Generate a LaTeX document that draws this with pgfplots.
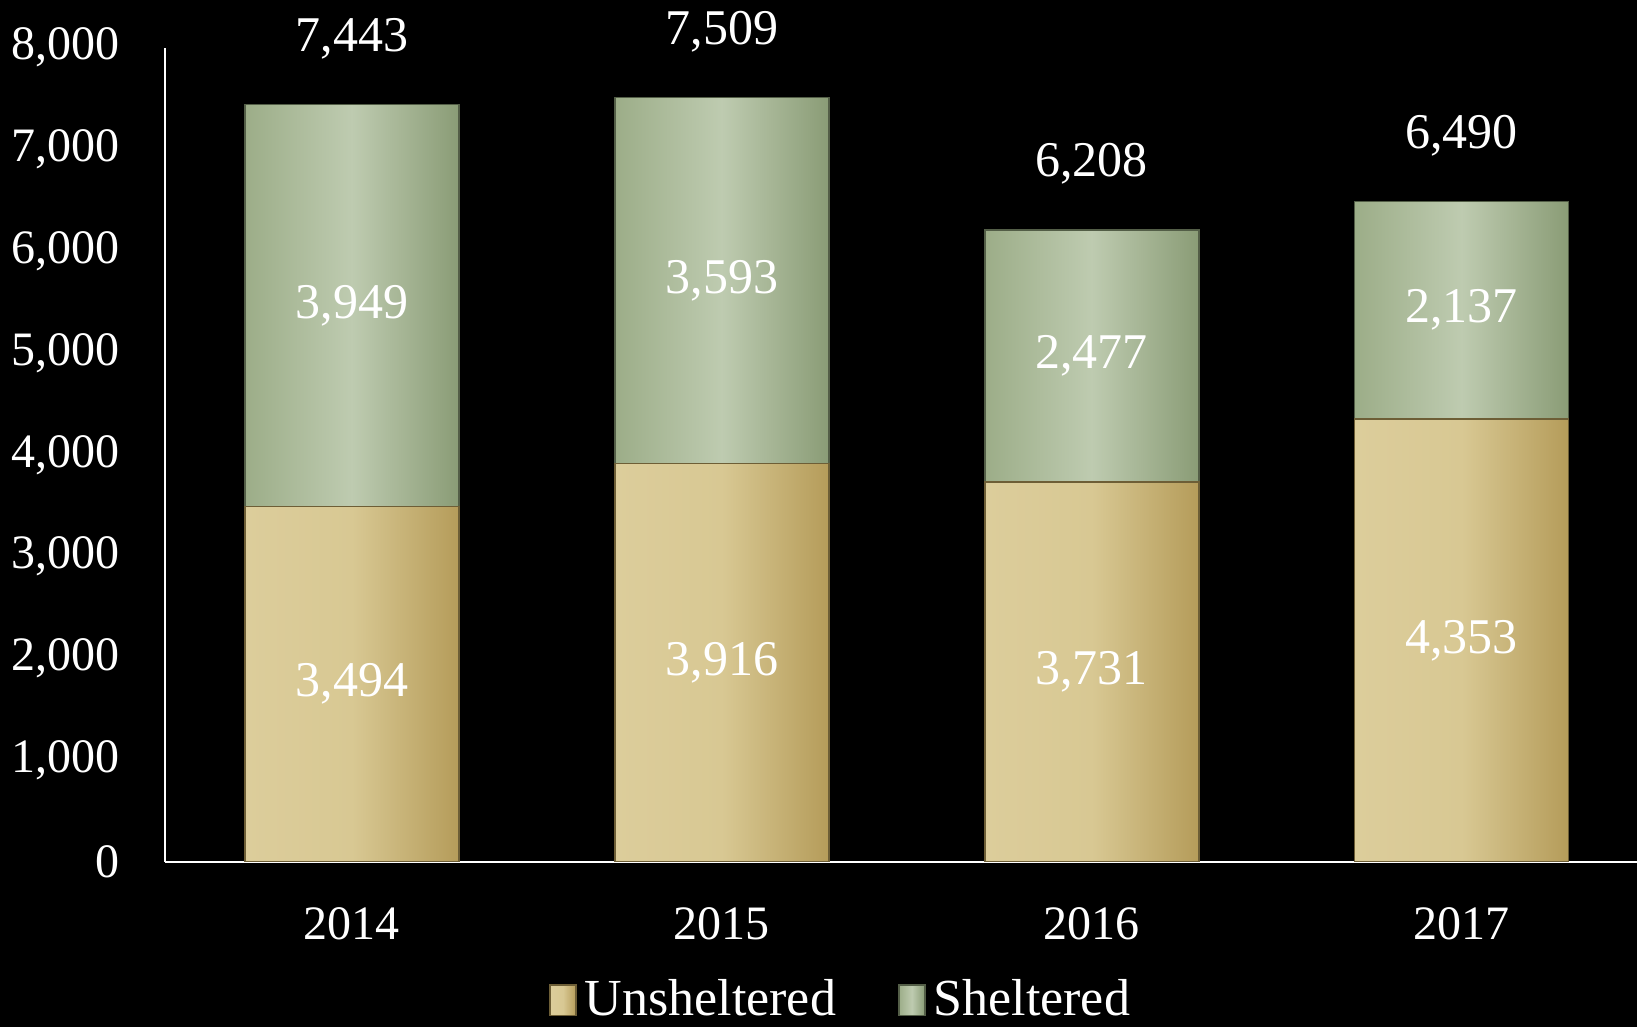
\documentclass[border=0pt]{standalone}
\usepackage{fontspec}
\setmainfont{Liberation Serif}
\usepackage{xcolor}
\usepackage{pgfplots}
\pgfplotsset{compat=1.18}
\definecolor{gL}{HTML}{9CAD88}
\definecolor{gM}{HTML}{BECBB0}
\definecolor{gR}{HTML}{8A9C76}
\definecolor{tL}{HTML}{DCCD9B}
\definecolor{tM}{HTML}{D8C893}
\definecolor{tR}{HTML}{B59C5A}
\newcommand{\fs}[1]{\fontsize{#1}{#1}\selectfont}
\pgfplotsset{
  unsh/.style={left color=tL, right color=tR, middle color=tM, draw=tR!60!black, line width=0.4pt},
  shel/.style={left color=gL, right color=gR, middle color=gM, draw=gR!60!black, line width=0.4pt},
}

\begin{document}
\begin{tikzpicture}
\fill[black] (0,0) rectangle (409.25pt,256.75pt);
\begin{axis}[
  name=a, at={(41.25pt,41.25pt)}, anchor=south west,
  scale only axis, width=368pt, height=203.6pt,
  ybar, bar width=53.5pt, bar shift=0pt,
  xmin=-0.505, xmax=3.474, ymin=0, ymax=8000,
  xtick={0,1,2,3}, xticklabels={2014,2015,2016,2017},
  ytick={0,1000,...,8000}, scaled y ticks=false,
  /pgf/number format/1000 sep={,}, /pgf/number format/assume math mode=true,
  axis x line*=bottom, axis y line*=left,
  axis line style={white, line width=0.6pt},
  major tick length=0pt,
  xticklabel style={anchor=center, yshift=-15.5pt, text=white, font=\fs{12}},
  yticklabel style={anchor=east, inner sep=0pt, xshift=-11.25pt, text=white, font=\fs{12}},
  legend style={draw=none, fill=none, text=white, font=\fs{13},
    at={(0.461,-0.17)}, anchor=center, legend columns=2,
    /tikz/every even column/.append style={column sep=13.5pt}},
  legend image code/.code={\path[#1] (0pt,-3.8pt) rectangle (6.5pt,3.8pt);},
]
% sheltered segment drawn from 0 to the total, unsheltered drawn over its lower part
\addplot[shel, forget plot] coordinates {(0,7443)};
\addplot[shel, forget plot] coordinates {(1,7509)};
\addplot[shel, forget plot] coordinates {(2,6208)};
\addplot[shel, forget plot] coordinates {(3,6490)};
\addplot[unsh, forget plot] coordinates {(0,3494)};
\addplot[unsh, forget plot] coordinates {(1,3916)};
\addplot[unsh, forget plot] coordinates {(2,3731)};
\addplot[unsh, forget plot] coordinates {(3,4353)};
\addlegendimage{unsh}
\addlegendentry{Unsheltered}
\addlegendimage{shel}
\addlegendentry{Sheltered}
\end{axis}
\begin{axis}[
  at={(a.south west)}, anchor=south west,
  scale only axis, width=368pt, height=203.6pt,
  xmin=-0.505, xmax=3.474, ymin=0, ymax=8000,
  axis lines=none, clip=false,
  nodes near coords, point meta=explicit symbolic,
]
\addplot[draw=none, mark=none, every node near coord/.append style={anchor=center, text=white, font=\fs{12.5}}]
  coordinates {(0,1747) [3,494] (1,1958) [3,916] (2,1865.5) [3,731] (3,2176.5) [4,353]
               (0,5468.5) [3,949] (1,5712.5) [3,593] (2,4969.5) [2,477] (3,5421.5) [2,137]};
\addplot[draw=none, mark=none, every node near coord/.append style={anchor=center, yshift=16.5pt, text=white, font=\fs{12.5}}]
  coordinates {(0,7443) [7,443] (1,7509) [7,509] (2,6208) [6,208] (3,6490) [6,490]};
\end{axis}
\pgfresetboundingbox
\path[use as bounding box] (0,0) rectangle (409.25pt,256.75pt);
\end{tikzpicture}
\end{document}
